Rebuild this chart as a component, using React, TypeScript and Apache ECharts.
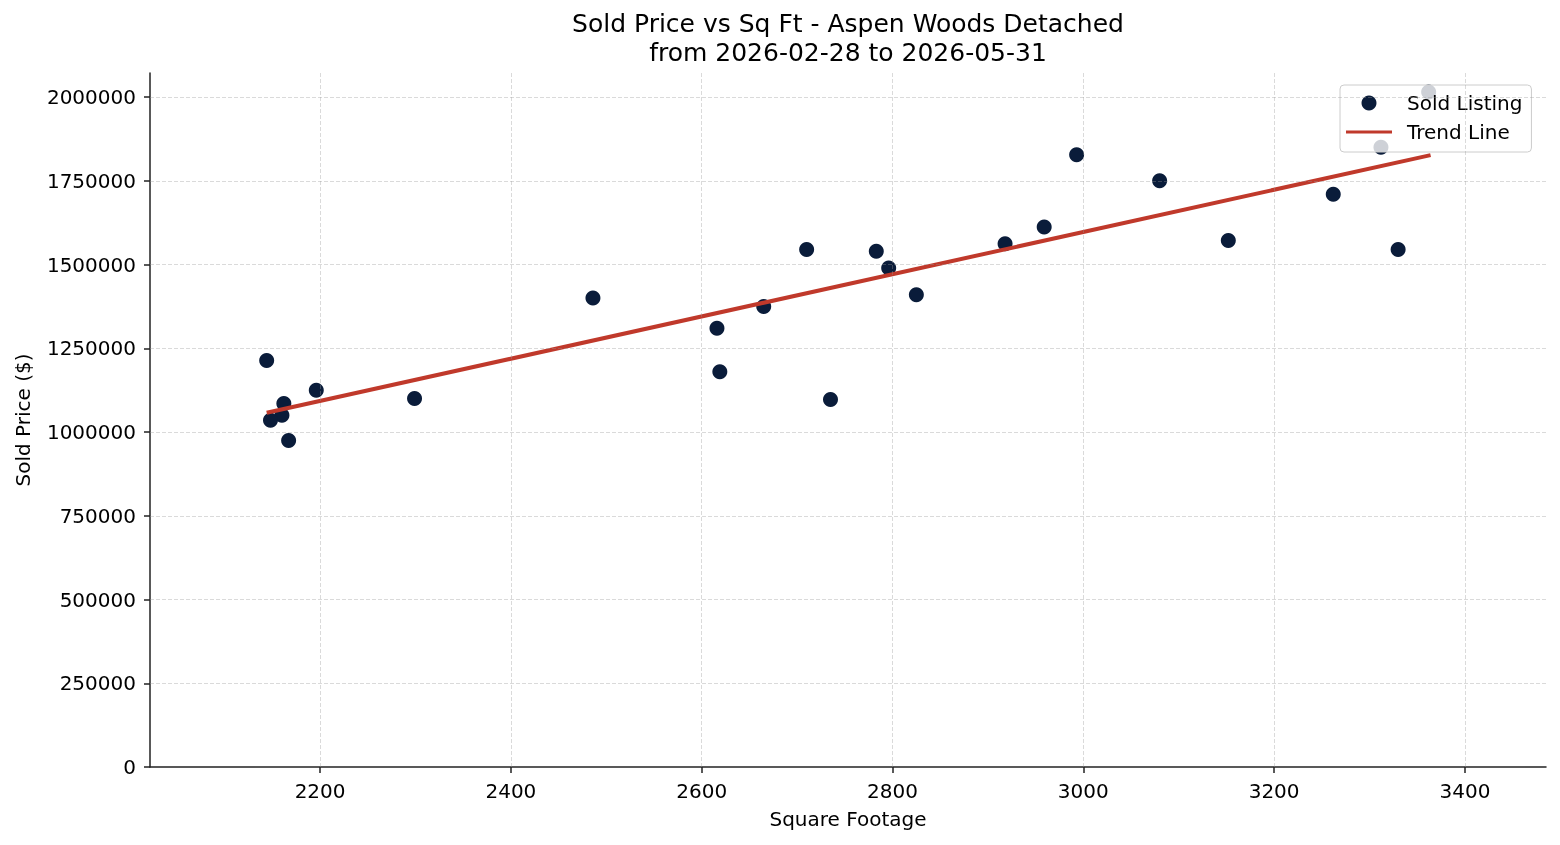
import React, { useEffect, useRef } from "react";
import * as echarts from "echarts";

const sqft = [2144, 2196, 2162, 2160, 2148, 2167, 2299, 2486, 2616, 2619, 2665, 2710, 2735, 2783, 2796, 2825, 2918, 2959, 2993, 3080, 3152, 3262, 3330, 3312, 3362];
const price = [1214000, 1125000, 1085000, 1050000, 1035000, 975000, 1100000, 1400000, 1310000, 1180000, 1375000, 1545000, 1097500, 1540000, 1490000, 1410000, 1562500, 1612000, 1828000, 1750000, 1572000, 1710000, 1545000, 1850000, 2015000];
const trendX = [2144, 3364];
const trendY = [1057600, 1826900];
const xTicks = [2200, 2400, 2600, 2800, 3000, 3200, 3400];
const yTicks = [0, 250000, 500000, 750000, 1000000, 1250000, 1500000, 1750000, 2000000];

const FONT = '"DejaVu Sans", sans-serif';
const AXIS_COLOR = "#222";
const GRID_COLOR = "rgba(150,150,150,0.45)";
const DOT_COLOR = "#0a1c3a";
const LINE_COLOR = "#c0392b";

export default function App() {
  const ref = useRef<HTMLDivElement>(null);
  useEffect(() => {
    if (!ref.current) return;
    const chart = echarts.init(ref.current, undefined, { renderer: "svg" });
    const gridLines = [
      ...xTicks.map((v) => ({ xAxis: v })),
      ...yTicks.filter((v) => v > 0).map((v) => ({ yAxis: v })),
    ];
    chart.setOption({
      animation: false,
      textStyle: { fontFamily: FONT },
      graphic: [
        {
          type: "text",
          x: 848,
          y: 9,
          style: {
            text: "Sold Price vs Sq Ft - Aspen Woods Detached\nfrom 2026-02-28 to 2026-05-31",
            align: "center",
            textAlign: "center",
            verticalAlign: "top",
            fontSize: 25,
            lineHeight: 29,
            fontFamily: FONT,
            fill: "#000",
          },
        },
      ],
      grid: { left: 150, right: 14, top: 73, bottom: 78, containLabel: false },
      legend: {
        orient: "vertical",
        left: 1340,
        top: 85,
        padding: [8, 9, 10, 6],
        itemGap: 9,
        itemWidth: 46,
        itemHeight: 15,
        backgroundColor: "rgba(255,255,255,0.8)",
        borderColor: "#cccccc",
        borderWidth: 1,
        borderRadius: 4,
        textStyle: { fontSize: 20, color: "#000", fontFamily: FONT, padding: [0, 0, 0, 10] },
        data: [
          { name: "Sold Listing", icon: "circle" },
          { name: "Trend Line", icon: "path://M0,0 H46 V3 H0 Z" },
        ],
      },
      xAxis: {
        type: "value",
        min: 2021.7,
        max: 3485,
        name: "Square Footage",
        nameLocation: "middle",
        nameGap: 42,
        nameTextStyle: { fontSize: 20, color: "#000", fontFamily: FONT },
        axisLine: { show: true, onZero: false, lineStyle: { color: AXIS_COLOR, width: 1.5 } },
        axisTick: { show: true, length: 6, customValues: xTicks, lineStyle: { color: AXIS_COLOR, width: 1.5 } },
        axisLabel: { fontSize: 20, color: "#000", margin: 14, fontFamily: FONT, customValues: xTicks, formatter: (v: number) => String(v) },
        splitLine: { show: false },
      },
      yAxis: {
        type: "value",
        min: 0,
        max: 2072000,
        name: "Sold Price ($)",
        nameLocation: "middle",
        nameGap: 117,
        nameTextStyle: { fontSize: 20, color: "#000", fontFamily: FONT },
        axisLine: { show: true, onZero: false, lineStyle: { color: AXIS_COLOR, width: 1.5 } },
        axisTick: { show: true, length: 6, customValues: yTicks, lineStyle: { color: AXIS_COLOR, width: 1.5 } },
        axisLabel: { fontSize: 20, color: "#000", margin: 14, fontFamily: FONT, customValues: yTicks, formatter: (v: number) => String(v) },
        splitLine: { show: false },
      },
      series: [
        {
          name: "Sold Listing",
          type: "scatter",
          symbol: "circle",
          symbolSize: 15,
          itemStyle: { color: DOT_COLOR, opacity: 1 },
          data: sqft.map((x, i) => [x, price[i]]),
          markLine: {
            silent: true,
            symbol: ["none", "none"],
            label: { show: false },
            lineStyle: { color: GRID_COLOR, type: [4, 2], width: 0.8 },
            data: gridLines,
          },
          z: 2,
        },
        {
          name: "Trend Line",
          type: "line",
          symbol: "none",
          showSymbol: false,
          lineStyle: { color: LINE_COLOR, width: 4 },
          itemStyle: { color: LINE_COLOR },
          data: trendX.map((x, i) => [x, trendY[i]]),
          z: 3,
        },
      ],
    });
    return () => chart.dispose();
  }, []);
  return <div ref={ref} style={{ position: "fixed", left: 0, top: 0, width: 1560, height: 845 }} />;
}
